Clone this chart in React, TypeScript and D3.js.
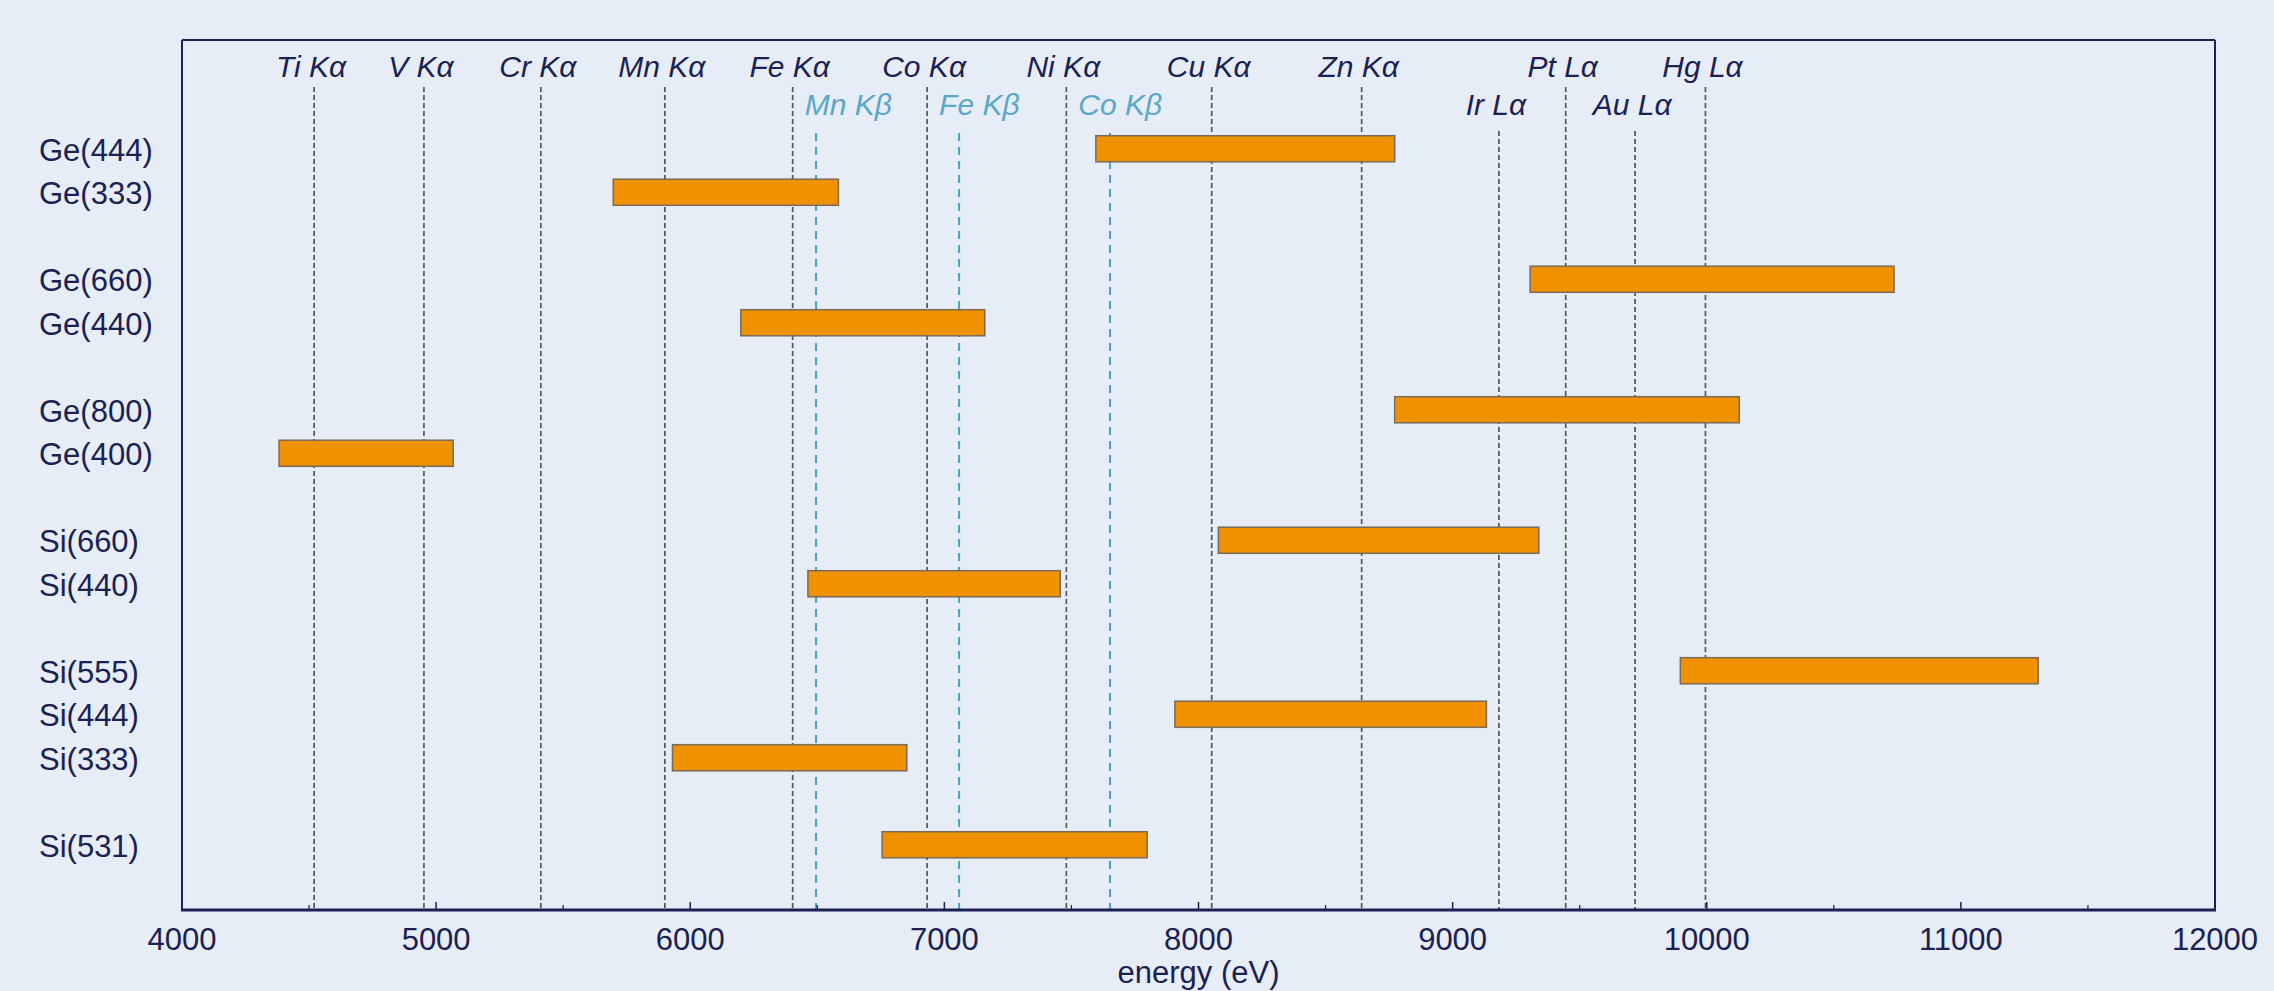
import React, { useEffect } from "react";
import * as d3 from "d3";

// ---- data ----
const crystals = ["Ge(444)", "Ge(333)", "Ge(660)", "Ge(440)", "Ge(800)", "Ge(400)", "Si(660)", "Si(440)", "Si(555)", "Si(444)", "Si(333)", "Si(531)"];
const crystalGroup = [0, 0, 1, 1, 2, 2, 3, 3, 4, 4, 4, 5];
const energyMin = [7596, 5697, 9305, 6199, 8772, 4382, 8078, 6463, 9896, 7907, 5930, 6755];
const energyMax = [8772, 6583, 10737, 7159, 10128, 5067, 9339, 7456, 11304, 9133, 6852, 7798];

const lineNames = ["Ti Kα", "V Kα", "Cr Kα", "Mn Kα", "Fe Kα", "Co Kα", "Ni Kα", "Cu Kα", "Zn Kα", "Ir Lα", "Pt Lα", "Au Lα", "Hg Lα"];
const lineEnergies = [4520, 4952, 5412, 5900, 6403, 6932, 7480, 8052, 8642, 9182, 9445, 9718, 9995];
const lineLabelRow = [0, 0, 0, 0, 0, 0, 0, 0, 0, 1, 0, 1, 0];

const betaNames = ["Mn Kβ", "Fe Kβ", "Co Kβ"];
const betaEnergies = [6495, 7058, 7652];

const xDomain = [4000, 12000];
const majorTicks = [4000, 5000, 6000, 7000, 8000, 9000, 10000, 11000, 12000];

// ---- style ----
const W = 2274, H = 991;
const M = { left: 182, right: 2215, top: 40, bottom: 910 };
const BG = "#e6edf6";
const NAVY = "#1b2152";
const GREY = "#555555";
const BLUE = "#4c9fc0";
const BLUE_TXT = "#5aa7c7";
const ORANGE = "#f09200";
const FONT = "'Liberation Sans', Arial, Helvetica, sans-serif";

export default function App() {
  useEffect(() => {
    document.body.style.margin = "0";
    document.body.style.background = BG;
  }, []);

  const x = d3.scaleLinear().domain(xDomain).range([M.left, M.right]);
  const y = d3.scaleLinear().domain([-2.5, 17.5]).range([M.top, M.bottom]);
  const step = y(1) - y(0);
  const barH = step * 0.6;
  const minorTicks = d3.range(xDomain[0] + 500, xDomain[1], 1000);

  const labelBaseline = [77, 115];
  const lineTop = [87, 131];
  const betaTop = 133;

  return (
    <svg width={W} height={H} style={{ display: "block", background: BG }} fontFamily={FONT}>
      <rect x={0} y={0} width={W} height={H} fill={BG} />

      {/* element lines */}
      {lineEnergies.map((e, i) => (
        <g key={"l" + i}>
          <line x1={x(e)} x2={x(e)} y1={lineTop[lineLabelRow[i]]} y2={M.bottom} stroke={GREY} strokeWidth={1.7} strokeDasharray="5,3" />
          <text x={x(e) - 3} y={labelBaseline[lineLabelRow[i]]} textAnchor="middle" fontStyle="italic" fontSize={30} fill={NAVY}>{lineNames[i]}</text>
        </g>
      ))}
      {betaEnergies.map((e, i) => {
        const prev = d3.max(lineEnergies.filter((v) => v < e)) as number;
        return (
          <g key={"b" + i}>
            <line x1={x(e)} x2={x(e)} y1={betaTop} y2={M.bottom} stroke={BLUE} strokeWidth={2} strokeDasharray="8,6" />
            <text x={x(prev) + 12} y={labelBaseline[1]} textAnchor="start" fontStyle="italic" fontSize={30} fill={BLUE_TXT}>{betaNames[i]}</text>
          </g>
        );
      })}

      {/* bars */}
      {crystals.map((c, i) => {
        const row = i + crystalGroup[i];
        return (
          <g key={c}>
            <rect x={x(energyMin[i])} y={y(row) - barH / 2} width={x(energyMax[i]) - x(energyMin[i])} height={barH} fill={ORANGE} stroke="#7a6a5a" strokeWidth={1.5} />
            <text x={39} y={y(row) + 12} fontSize={31} fill={NAVY}>{c}</text>
          </g>
        );
      })}

      {/* frame */}
      <line x1={M.left} x2={M.right} y1={M.top} y2={M.top} stroke={NAVY} strokeWidth={2} />
      <line x1={M.left} x2={M.left} y1={M.top} y2={M.bottom} stroke={NAVY} strokeWidth={2} />
      <line x1={M.right} x2={M.right} y1={M.top} y2={M.bottom} stroke={NAVY} strokeWidth={2} />
      <line x1={M.left - 1} x2={M.right + 1} y1={M.bottom} y2={M.bottom} stroke={NAVY} strokeWidth={3} />

      {/* ticks */}
      {majorTicks.map((t) => (
        <g key={"t" + t}>
          <line x1={x(t)} x2={x(t)} y1={M.bottom} y2={M.bottom - 8} stroke={NAVY} strokeWidth={1.5} />
          <text x={x(t)} y={950} textAnchor="middle" fontSize={31} fill={NAVY}>{d3.format("d")(t)}</text>
        </g>
      ))}
      {minorTicks.map((t) => (
        <line key={"m" + t} x1={x(t)} x2={x(t)} y1={M.bottom} y2={M.bottom - 5} stroke={NAVY} strokeWidth={1.2} />
      ))}

      <text x={(M.left + M.right) / 2} y={983} textAnchor="middle" fontSize={31} fill={NAVY}>energy (eV)</text>
    </svg>
  );
}
